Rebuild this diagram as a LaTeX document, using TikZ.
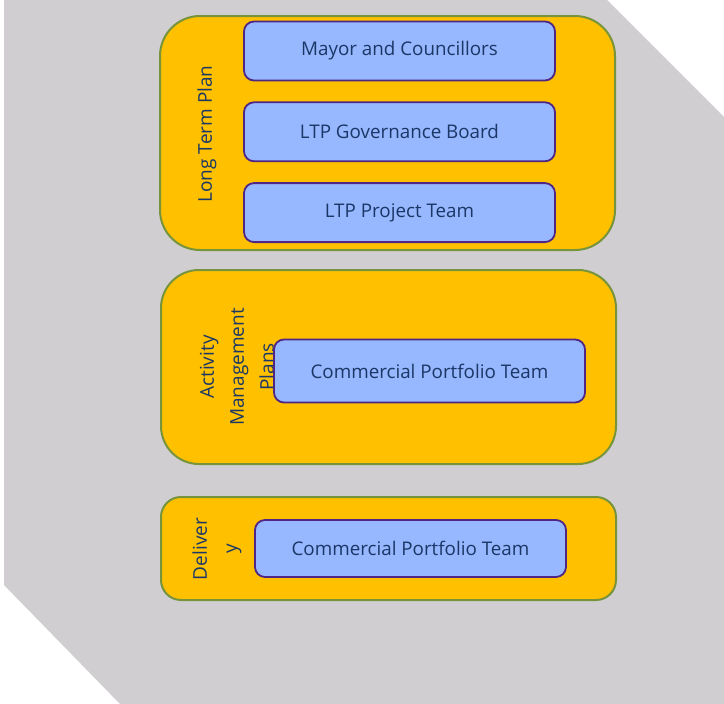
\documentclass[tikz,border=0pt]{standalone}
\usepackage{fontspec}
\setmainfont{Open Sans}
\usepackage{tikz}
\usetikzlibrary{positioning}

\definecolor{backgrey}{HTML}{D0CED0}
\definecolor{stagefill}{HTML}{FFC000}
\definecolor{stageline}{HTML}{77933C}
\definecolor{teamfill}{HTML}{97B7FF}
\definecolor{teamline}{HTML}{4F2683}
\definecolor{navytext}{HTML}{1B3766}

\tikzset{
  stage/.style={draw=stageline, line width=2pt, fill=stagefill,
    minimum width=455pt, inner sep=0pt},
  team/.style={draw=teamline, line width=1.8pt, fill=teamfill, rounded corners=10pt,
    minimum width=311pt, minimum height=59pt, inner sep=0pt,
    text=navytext, font=\fontsize{18.8}{22}\selectfont},
  stagelabel/.style={rotate=90, align=center, text=navytext,
    font=\fontsize{19}{30}\selectfont}
}

\begin{document}
\begin{tikzpicture}[x=1pt,y=-1pt]
  \useasboundingbox (0,0) rectangle (724,704);
  % cut-corner backdrop
  \fill [backgrey] (4,0) -- (607,0) -- (724,117) -- (724,704) -- (120,704) -- (4,585) -- cycle;

  % the three stages
  \node [stage, rounded corners=40pt, minimum height=234pt] (ltp) at (387.5,133) {};
  \node [stage, rounded corners=38pt, minimum height=194pt] (amp) at (388.5,367) {};
  \node [stage, rounded corners=20pt, minimum height=103pt] (delivery) at (388.5,548.5) {};

  \node [stagelabel] (ltplabel) at (207,134) {Long Term Plan};
  \node [stagelabel] (amplabel) at (237,367) {Activity\\Management\\Plans};
  \node [stagelabel] (dellabel) at (217,549) {Deliver\\y};

  % teams inside each stage
  \node [team] (mayor) at (399.5,51) {Mayor and Councillors};
  \node [team, below=20pt of mayor] (board) {LTP Governance Board};
  \node [team, below=20pt of board] (ltpteam) {LTP Project Team};

  \node [team, minimum height=63pt] (cptplans) at (429.5,371) {Commercial Portfolio Team};
  \node [team, minimum height=57pt] (cptdelivery) at (410.5,548.5) {Commercial Portfolio Team};
\end{tikzpicture}
\end{document}
